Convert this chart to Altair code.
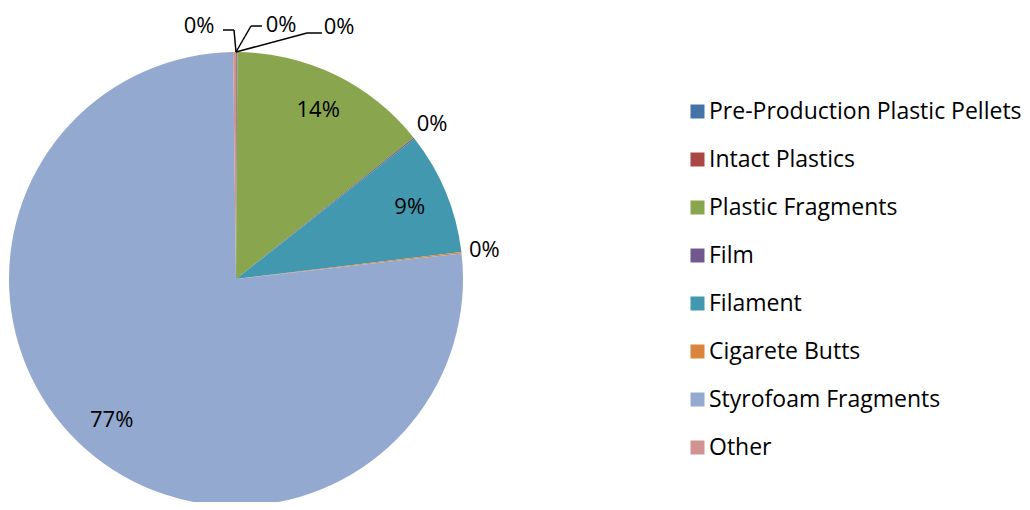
import math
import altair as alt
import pandas as pd

# ---- data ----
categories = [
    "Pre-Production Plastic Pellets",
    "Intact Plastics",
    "Plastic Fragments",
    "Film",
    "Filament",
    "Cigarete Butts",
    "Styrofoam Fragments",
    "Other",
]
values = [0.05, 0.05, 14.2, 0.1, 8.7, 0.1, 76.6, 0.2]
colors = ["#4572A7", "#AA4643", "#89A54E", "#71588F", "#4198AF", "#DB843D", "#93A9CF", "#D19392"]

# ---- layout ----
FONT = "Open Sans"
CX, CY, R = 228, 271, 227
INNER_R = 188
OUTER_R = 250
# labels for tiny slices at the top, placed with leader lines (offsets from centre)
top_labels = {
    "Other": {"label": (-37, -253), "elbow": (-2, -249), "end": (-13, -249)},
    "Pre-Production Plastic Pellets": {"label": (45, -254), "elbow": (15, -253), "end": (26, -253)},
    "Intact Plastics": {"label": (103, -252), "elbow": (71, -246), "end": (86, -246)},
}

total = sum(values)
df = pd.DataFrame({"category": categories, "value": values, "order": range(len(categories))})
df["pct"] = [f"{round(v / total * 100)}%" for v in values]
cum = df["value"].cumsum()
df["mid"] = (cum - df["value"] / 2) / total * 2 * math.pi

lx, ly = [], []
for _, row in df.iterrows():
    if row["category"] in top_labels:
        ox, oy = top_labels[row["category"]]["label"]
        lx.append(CX + ox)
        ly.append(CY + oy)
    else:
        r = INNER_R if row["value"] / total > 0.05 else OUTER_R
        lx.append(CX + r * math.sin(row["mid"]))
        ly.append(CY - r * math.cos(row["mid"]))
df["lx"] = lx
df["ly"] = ly

segs = []
for cat, d in top_labels.items():
    ex, ey = d["elbow"]
    nx, ny = d["end"]
    segs.append({"x": CX, "y": CY - R, "x2": CX + ex, "y2": CY + ey})
    segs.append({"x": CX + ex, "y": CY + ey, "x2": CX + nx, "y2": CY + ny})
seg_df = pd.DataFrame(segs)

base = alt.Chart(df)

pie = base.mark_arc(outerRadius=R, strokeWidth=0).encode(
    theta=alt.Theta("value:Q", stack=True),
    order=alt.Order("order:Q"),
    color=alt.Color(
        "category:N",
        sort=categories,
        scale=alt.Scale(domain=categories, range=colors),
        legend=alt.Legend(
            title=None,
            orient="none",
            legendX=678,
            legendY=92,
            symbolType="square",
            symbolSize=196,
            symbolStrokeWidth=0,
            labelFontSize=23,
            labelFont=FONT,
            labelColor="#000000",
            labelOffset=0,
            rowPadding=24,
            labelLimit=400,
        ),
    ),
    x=alt.value(CX),
    y=alt.value(CY),
)

labels = base.mark_text(fontSize=22, font=FONT, color="#000000", align="center", baseline="middle").encode(
    x=alt.X("lx:Q", scale=None, axis=None),
    y=alt.Y("ly:Q", scale=None, axis=None),
    text="pct:N",
)

leaders = alt.Chart(seg_df).mark_rule(color="#000000", strokeWidth=1.5).encode(
    x=alt.X("x:Q", scale=None, axis=None),
    y=alt.Y("y:Q", scale=None, axis=None),
    x2="x2:Q",
    y2="y2:Q",
)

chart = (
    alt.layer(pie, leaders, labels)
    .properties(width=1014, height=494, autosize="none", padding=0, background="white")
    .configure_view(strokeWidth=0, stroke=None)
)

chart.save("out.html", embed_options={"renderer": "svg", "actions": False})
